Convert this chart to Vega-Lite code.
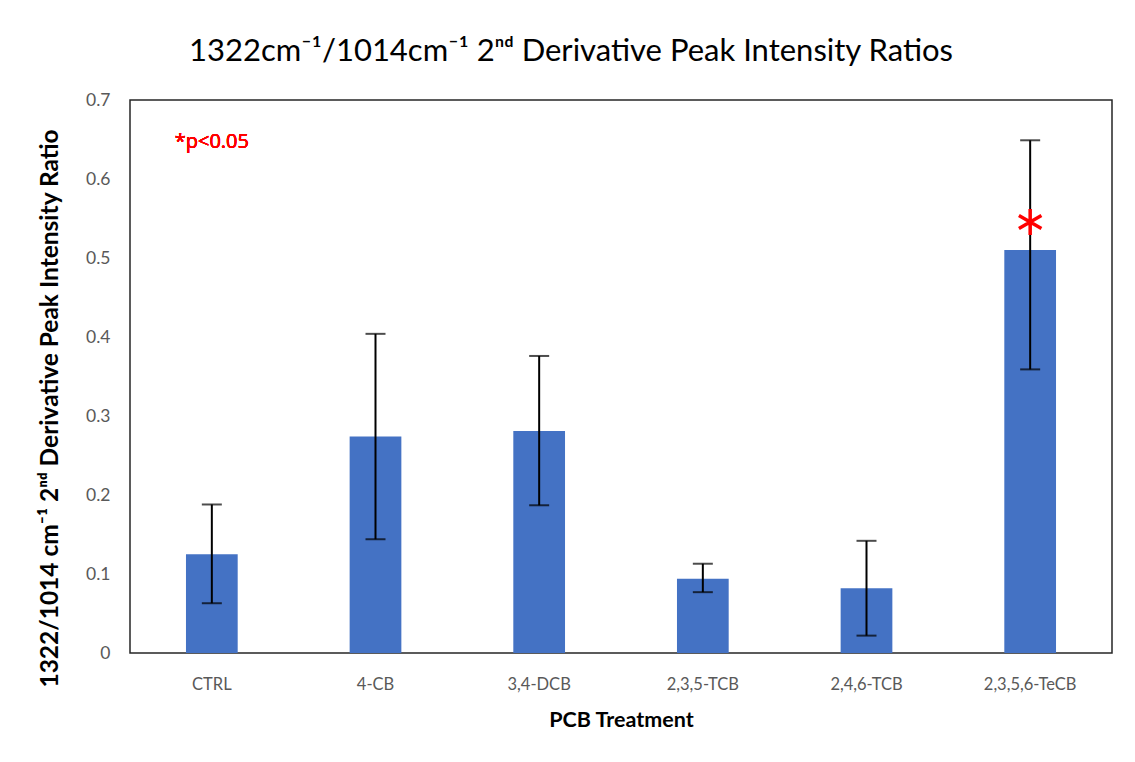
{
  "$schema": "https://vega.github.io/schema/vega-lite/v6.json",
  "width": 982,
  "height": 553,
  "autosize": {"type": "none"},
  "padding": {"left": 130, "top": 100, "right": 23, "bottom": 109},
  "background": "white",
  "title": {
    "text": "1322cm⁻¹/1014cm⁻¹ 2ⁿᵈ Derivative Peak Intensity Ratios",
    "font": "Lato",
    "fontSize": 31,
    "fontWeight": "normal",
    "color": "#000000",
    "anchor": "middle",
    "dx": -50,
    "offset": 23
  },
  "data": {
    "values": [
      {"treatment": "CTRL", "mean": 0.125, "lo": 0.063, "hi": 0.188, "sig": false},
      {"treatment": "4-CB", "mean": 0.274, "lo": 0.144, "hi": 0.404, "sig": false},
      {"treatment": "3,4-DCB", "mean": 0.281, "lo": 0.187, "hi": 0.376, "sig": false},
      {"treatment": "2,3,5-TCB", "mean": 0.094, "lo": 0.077, "hi": 0.113, "sig": false},
      {"treatment": "2,4,6-TCB", "mean": 0.082, "lo": 0.022, "hi": 0.142, "sig": false},
      {"treatment": "2,3,5,6-TeCB", "mean": 0.510, "lo": 0.359, "hi": 0.649, "sig": true}
    ]
  },
  "encoding": {
    "x": {
      "field": "treatment",
      "type": "nominal",
      "sort": null,
      "scale": {"paddingInner": 0.684, "paddingOuter": 0.342},
      "axis": {
        "title": "PCB Treatment",
        "labelAngle": 0,
        "labelPadding": 23,
        "labelFontSize": 16.5,
        "titlePadding": 17,
        "titleFontSize": 21.5
      }
    }
  },
  "layer": [
    {
      "mark": {"type": "bar", "color": "#4472C4"},
      "encoding": {
        "y": {
          "field": "mean",
          "type": "quantitative",
          "scale": {"domain": [0, 0.7], "nice": false},
          "axis": {
            "title": "1322/1014  cm⁻¹ 2ⁿᵈ Derivative Peak Intensity Ratio",
            "values": [0, 0.1, 0.2, 0.3, 0.4, 0.5, 0.6, 0.7],
            "labelExpr": "datum.value === 0 ? '0' : format(datum.value, '.1f')",
            "labelPadding": 20,
            "labelFontSize": 17.5,
            "titleFontSize": 24.5,
            "titleAngle": -90,
            "titleX": -80,
            "titleY": 308,
            "titleAlign": "center",
            "titleBaseline": "middle"
          }
        }
      }
    },
    {
      "mark": {"type": "rule", "color": "#000000", "strokeWidth": 2},
      "encoding": {
        "y": {"field": "lo", "type": "quantitative"},
        "y2": {"field": "hi"}
      }
    },
    {
      "mark": {"type": "tick", "color": "#000000", "thickness": 2, "size": 20, "orient": "horizontal"},
      "encoding": {"y": {"field": "hi", "type": "quantitative"}}
    },
    {
      "mark": {"type": "tick", "color": "#000000", "thickness": 2, "size": 20, "orient": "horizontal"},
      "encoding": {"y": {"field": "lo", "type": "quantitative"}}
    },
    {
      "transform": [{"filter": "datum.sig"}],
      "mark": {
        "type": "point",
        "shape": "M0,-1L0,1M-0.866,-0.5L0.866,0.5M-0.866,0.5L0.866,-0.5",
        "filled": false,
        "stroke": "#FF0000",
        "strokeWidth": 3.5,
        "size": 676,
        "opacity": 1,
        "yOffset": -28
      },
      "encoding": {"y": {"field": "mean", "type": "quantitative"}}
    },
    {
      "mark": {
        "type": "text",
        "text": "*p<0.05",
        "font": "Open Sans",
        "fontSize": 20,
        "fontWeight": "normal",
        "color": "#FF0000",
        "align": "center",
        "baseline": "middle"
      },
      "encoding": {
        "x": {"datum": "CTRL"},
        "y": {"datum": 0.647}
      }
    }
  ],
  "config": {
    "view": {"stroke": "#262626", "strokeWidth": 1.5},
    "axis": {
      "grid": false,
      "ticks": false,
      "domain": false,
      "labelFont": "Lato",
      "labelColor": "#595959",
      "titleFont": "Lato",
      "titleFontWeight": "bold",
      "titleColor": "#000000"
    }
  }
}
